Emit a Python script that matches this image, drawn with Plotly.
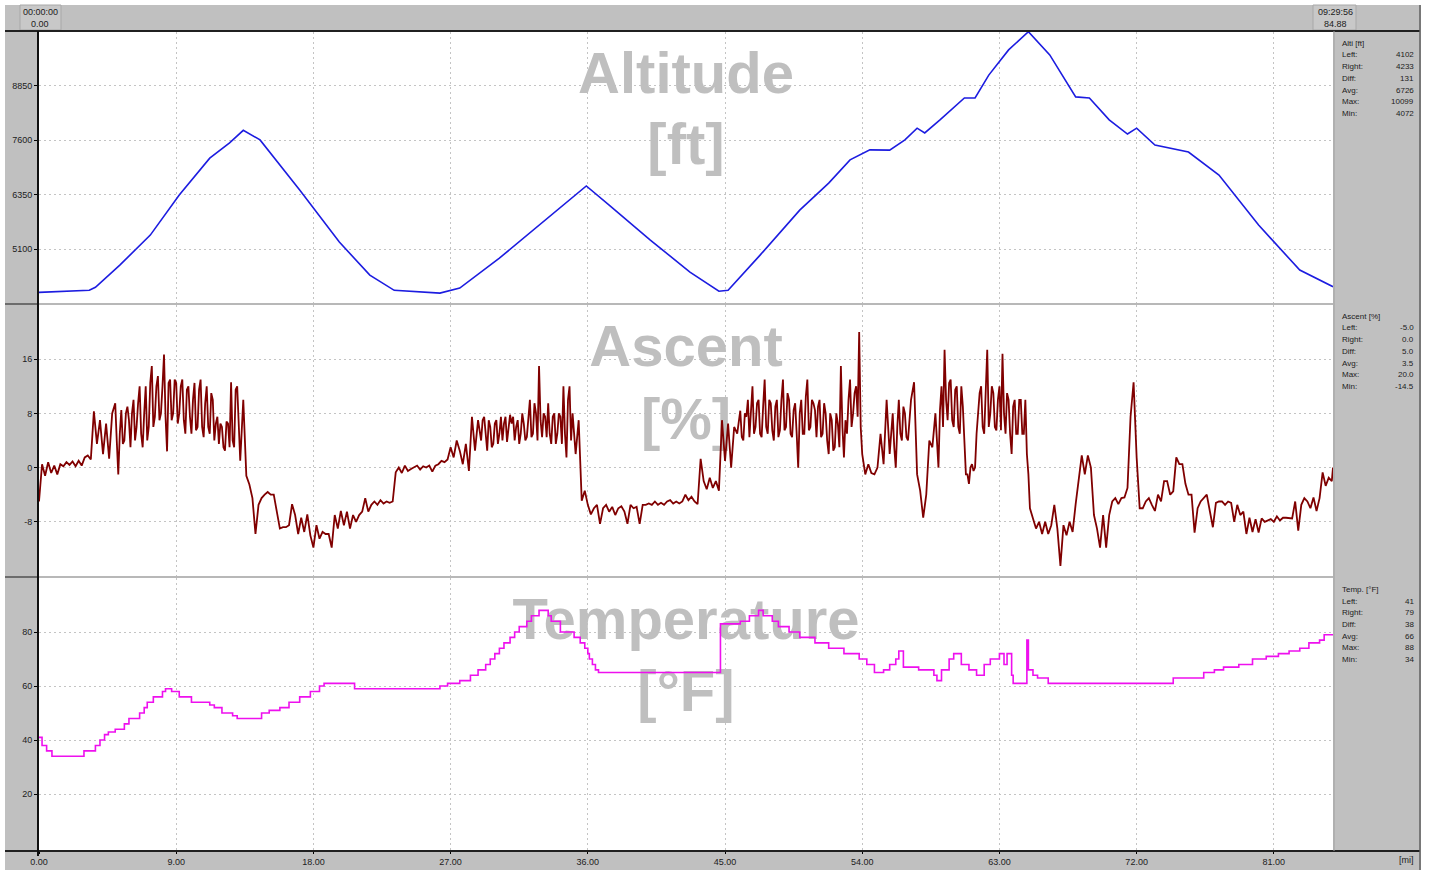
import numpy as np
import plotly.graph_objects as go

W, H = 1430, 875

# ---------------- data ----------------
alt_mi = [0.0, 3.3, 3.7, 5.3, 7.3, 9.2, 11.2, 12.5, 13.4, 14.5, 17.1, 19.7, 21.7, 23.3, 26.3,
          27.6, 30.2, 32.8, 34.8, 35.9, 37.4, 40.1, 42.7, 44.6, 45.2, 47.3, 49.9, 51.8, 53.2,
          54.5, 55.8, 56.8, 57.6, 58.1, 59.1, 60.7, 61.4, 62.3, 63.6, 64.9, 66.3, 68.0, 68.9,
          70.2, 71.4, 72.0, 73.2, 74.8, 75.4, 77.4, 80.0, 82.7, 84.88]
alt_ft = [4102, 4150, 4220, 4730, 5420, 6340, 7190, 7540, 7830, 7610, 6455, 5260, 4500, 4150, 4085,
          4200, 4890, 5650, 6225, 6550, 6110, 5305, 4570, 4130, 4150, 4960, 5995, 6615, 7150,
          7380, 7375, 7610, 7880, 7770, 8070, 8575, 8575, 9100, 9680, 10099, 9565, 8600, 8575,
          8070, 7745, 7880, 7490, 7375, 7330, 6800, 5650, 4615, 4233]

# ascent [%], one row per mile, samples every 0.2 mi, last value at 84.88 mi
asc_pct = [
    -5.0, 0.5, -1.2, 0.8, -0.8,      # 0
    0.3, -1.0, 0.5, 0.2, 0.8,        # 1
    0.4, 0.9, 0.2, 1.0, 0.3,         # 2
    1.5, 1.8, 1.2, 8.3, 3.5,         # 3
    7.0, 2.0, 6.5, 1.3, 8.0,         # 4
    9.5, -1.0, 8.5, 4.0, 9.0,        # 5
    3.0, 10.0, 6.0, 12.0, 3.0,       # 6
    12.0, 6.0, 15.0, 7.5, 13.5,      # 7
    8.0, 16.7, 2.4, 13.0, 8.0,       # 8
    12.5, 8.0, 13.0, 5.0, 12.0,      # 9
    5.0, 12.5, 6.0, 13.0, 4.5,       # 10
    12.0, 5.0, 10.0, 6.5, 3.5,       # 11
    6.0, 2.5, 6.5, 12.6, 3.0,        # 12
    12.0, 1.0, 10.0, -1.2, -2.5,     # 13
    -4.5, -9.8, -5.5, -4.5, -4.0,    # 14
    -3.6, -4.0, -4.0, -6.5, -9.0,    # 15
    -8.8, -8.8, -8.5, -5.4, -7.0,    # 16
    -9.8, -7.4, -9.5, -6.9, -10.0,   # 17
    -11.8, -8.5, -10.5, -9.5, -9.8,  # 18
    -9.8, -11.8, -7.0, -9.0, -6.4,   # 19
    -8.5, -6.5, -9.0, -7.0, -8.0,    # 20
    -7.0, -6.5, -4.5, -6.5, -5.5,    # 21
    -5.0, -5.5, -4.8, -5.3, -5.0,    # 22
    -5.2, -5.0, -0.7, 0.0, -0.8,     # 23
    0.3, -0.5, -0.2, 0.0, 0.3,       # 24
    -0.3, 0.2, 0.0, 0.3, -0.6,       # 25
    0.3, 0.5, 1.0, 0.8, 1.2,         # 26
    3.0, 1.5, 4.0, 2.5, 0.5,         # 27
    3.5, -0.5, 7.5, 2.5, 7.0,        # 28
    4.0, 7.5, 2.5, 6.0, 3.5,         # 29
    7.0, 5.0, 4.0, 7.5, 5.5,         # 30
    6.5, 4.0, 7.0, 5.0, 6.5,         # 31
    4.5, 10.0, 5.0, 8.0, 15.0,       # 32
    4.5, 7.5, 9.5, 3.5, 8.0,         # 33
    5.0, 7.5, 12.0, 1.5, 12.0,       # 34
    8.0, 2.0, 7.0, -4.9, -3.4,       # 35
    -5.5, -6.9, -6.0, -5.5, -8.3,    # 36
    -6.0, -5.5, -6.5, -5.8, -7.0,    # 37
    -6.0, -5.7, -6.5, -8.3, -5.5,    # 38
    -6.0, -5.8, -8.3, -5.5, -5.5,    # 39
    -5.3, -5.5, -5.0, -5.5, -5.2,    # 40
    -5.5, -5.0, -4.8, -5.3, -5.0,    # 41
    -5.3, -5.0, -4.0, -4.8, -4.3,    # 42
    -5.0, -5.4, 1.3, -2.0, -3.2,     # 43
    -1.5, -3.0, -2.0, -3.4, 7.0,     # 44
    1.0, 6.5, 0.0, 6.0, 5.0,         # 45
    8.4, 4.0, 7.5, 4.5, 12.0,        # 46
    6.0, 10.0, 4.5, 13.0, 5.0,       # 47
    9.5, 4.0, 10.0, 5.5, 13.0,       # 48
    6.0, 10.0, 4.5, 9.5, 0.0,        # 49
    10.0, 5.0, 13.0, 6.0, 9.5,       # 50
    4.5, 10.0, 5.0, 8.0, 2.0,        # 51
    7.0, 3.0, 6.5, 15.0, 1.5,        # 52
    5.0, 13.0, 8.0, 12.0, 20.0,      # 53
    2.0, -1.0, 0.5, -0.8, -1.0,      # 54
    0.0, 5.0, 0.5, 10.0, 2.0,        # 55
    8.0, 0.0, 10.0, 4.0, 8.0,        # 56
    4.0, 10.0, 12.6, -1.0, -3.4,     # 57
    -7.4, -4.0, 4.0, 3.0, 8.0,       # 58
    0.0, 12.0, 17.4, 7.0, 13.0,      # 59
    6.0, 12.0, 5.0, 9.0, -1.0,       # 60
    -2.4, 0.5, 0.0, 8.0, 12.0,       # 61
    5.0, 17.4, 8.0, 11.0, 5.5,       # 62
    12.0, 16.8, 5.0, 10.0, 2.0,      # 63
    10.0, 5.0, 10.0, 5.0, 2.0,       # 64
    -6.0, -7.5, -9.0, -8.0, -9.8,    # 65
    -8.0, -9.8, -8.5, -5.5, -9.0,    # 66
    -14.5, -8.5, -10.0, -8.0, -9.5,  # 67
    -5.4, -2.0, 1.8, -1.0, 1.8,      # 68
    0.0, -7.0, -9.0, -11.8, -7.0,    # 69
    -11.8, -7.0, -5.0, -4.5, -5.4,   # 70
    -4.5, -4.4, -3.0, 7.5, 12.6,     # 71
    1.5, -6.0, -6.0, -5.0, -4.5,     # 72
    -5.5, -6.4, -4.0, -5.0, -2.0,    # 73
    -2.0, -4.0, -3.5, 1.5, 0.5,      # 74
    0.5, -2.4, -4.0, -4.0, -9.6,     # 75
    -6.0, -5.0, -4.5, -4.0, -6.4,    # 76
    -8.8, -5.2, -5.0, -5.0, -5.5,    # 77
    -5.0, -5.2, -8.0, -5.5, -7.0,    # 78
    -6.5, -9.8, -7.4, -9.5, -7.6,    # 79
    -9.6, -7.5, -8.0, -7.8, -7.6,    # 80
    -8.0, -7.2, -7.8, -7.4, -7.4,    # 81
    -7.4, -7.5, -5.0, -9.3, -5.5,    # 82
    -4.5, -5.0, -6.0, -4.4, -6.4,    # 83
    -4.5, -0.7, -2.7, -1.5, -2.0,    # 84
    0.0,                             # 84.88
]
asc_mi = [round(i * 0.2, 2) for i in range(len(asc_pct) - 1)] + [84.88]

# extra in-between readings (at mile + 0.1, 0.3, 0.5, 0.7, 0.9) for the noisy climbing stretches
asc_dense = {
    5: [4.0, 5.0, 3.5, 8.0, 7.0],
    6: [8.0, 4.0, 9.5, 5.0, 8.0],
    7: [4.0, 12.5, 6.0, 12.0, 7.0],
    8: [12.0, 7.5, 12.5, 7.0, 13.0],
    9: [6.5, 12.0, 7.0, 11.5, 7.5],
    10: [10.0, 5.5, 11.5, 6.0, 9.5],
    11: [6.0, 11.0, 4.0, 7.5, 6.5],
    12: [3.0, 6.8, 3.0, 4.0, 11.5],
    29: [7.0, 4.5, 7.0, 3.0, 6.5],
    30: [3.5, 7.5, 6.5, 3.8, 7.8],
    31: [7.5, 6.0, 3.5, 8.0, 4.0],
    32: [7.5, 4.5, 9.5, 4.0, 7.0],
    33: [8.0, 4.5, 5.0, 7.5, 3.5],
    34: [8.0, 3.5, 5.0, 10.0, 4.0],
    46: [4.5, 8.0, 10.0, 9.0, 5.0],
    47: [9.5, 5.0, 9.0, 6.0, 10.0],
    48: [5.5, 9.0, 4.5, 10.0, 5.5],
    49: [11.0, 5.0, 8.5, 5.0, 8.0],
    50: [5.0, 10.5, 5.5, 10.0, 8.5],
    51: [9.0, 4.5, 9.5, 4.0, 8.0],
    52: [2.5, 8.0, 3.0, 6.0, 7.0],
    53: [10.0, 6.0, 11.0, 7.5, 6.0],
    56: [3.0, 6.0, 5.0, 9.0, 4.5],
    59: [8.5, 6.0, 10.0, 12.5, 7.0],
    60: [11.5, 6.0, 12.0, 4.0, -1.0],
    61: [0.0, -0.5, 5.0, 11.0, 6.0],
    62: [10.5, 6.0, 12.0, 6.0, 10.0],
    63: [5.5, 8.0, 11.0, 5.0, 9.0],
    64: [5.0, 10.0, 5.0, 10.0, -1.0],
}
pts = list(zip(asc_mi, asc_pct))
for mile, vals in asc_dense.items():
    for k, v in enumerate(vals):
        pts.append((round(mile + 0.1 + 0.2 * k, 2), v))
pts.sort(key=lambda p: p[0])
asc_x = [p[0] for p in pts]
asc_y = [p[1] for p in pts]

# temperature [°F] step changes (value holds until next point)
temp_mi = [0.0, 0.2, 0.5, 0.85, 2.95, 3.7, 4.0, 4.3, 4.55, 5.0, 5.6, 5.9, 6.6, 6.9, 7.1, 7.5,
           8.1, 8.3, 8.7, 9.2, 10.0, 11.2, 11.5, 12.0, 12.7, 13.0, 13.8, 14.6, 15.1, 15.8,
           16.4, 17.1, 17.8, 18.4, 18.7, 20.7, 25.4, 26.3, 26.8, 27.6, 28.3, 28.8, 29.3, 29.6,
           29.9, 30.2, 30.5, 30.9, 31.2, 31.5, 32.0, 32.3, 32.8, 33.4, 33.6, 34.2, 35.1, 35.5,
           35.8, 36.0, 36.1, 36.3, 36.5, 36.7, 44.6, 44.7, 46.0, 46.6, 47.2, 47.5, 48.1, 48.5,
           49.2, 49.9, 50.9, 51.8, 52.8, 53.8, 54.3, 54.8, 55.4, 55.8, 56.2, 56.4, 56.7, 57.7,
           58.7, 58.9, 59.2, 59.7, 60.0, 60.5, 61.0, 61.5, 62.0, 62.4, 63.0, 63.3, 63.5, 63.8,
           63.9, 64.8, 64.9, 65.2, 65.5, 66.2, 68.5, 74.4, 76.4, 77.1, 77.7, 78.7, 79.6, 80.5,
           81.3, 82.0, 82.7, 83.3, 84.0, 84.3, 84.88]
temp_f = [41, 38, 36, 34, 36, 38, 40, 42, 43, 44, 46, 48, 50, 52, 54, 56,
          58, 59, 58, 56, 54, 53, 52, 50, 49, 48, 48, 50, 51, 52,
          54, 56, 58, 60, 61, 59, 59, 60, 61, 62, 64, 66, 68, 70,
          72, 74, 76, 78, 80, 82, 84, 86, 88, 86, 84, 80, 78, 76,
          74, 72, 70, 68, 66, 65, 65, 83, 84, 86, 88, 86, 84, 82,
          80, 78, 76, 74, 72, 70, 68, 65, 66, 68, 70, 73, 67, 66,
          64, 62, 66, 70, 72, 68, 66, 64, 68, 70, 72, 68, 72, 64,
          61, 77, 66, 64, 63, 61, 61, 63, 65, 66, 67, 68, 70, 71,
          72, 73, 74, 76, 77, 79, 79]

x_ticks = [0, 9, 18, 27, 36, 45, 54, 63, 72, 81]
alt_ticks = [5100, 6350, 7600, 8850]
asc_ticks = [-8, 0, 8, 16]
temp_ticks = [20, 40, 60, 80]

stats = [
    ("Alti [ft]", [("Left:", "4102"), ("Right:", "4233"), ("Diff:", "131"), ("Avg:", "6726"),
                   ("Max:", "10099"), ("Min:", "4072")]),
    ("Ascent [%]", [("Left:", "-5.0"), ("Right:", "0.0"), ("Diff:", "5.0"), ("Avg:", "3.5"),
                    ("Max:", "20.0"), ("Min:", "-14.5")]),
    ("Temp. [°F]", [("Left:", "41"), ("Right:", "79"), ("Diff:", "38"), ("Avg:", "66"),
                    ("Max:", "88"), ("Min:", "34")]),
]

# ---------------- layout geometry (pixels) ----------------
PX_L, PX_R = 39, 1333
panels = [(32, 303), (305, 576), (578, 850)]
ranges = [[3858, 10092], [-16.0, 24.0], [-0.7, 100.0]]


def px(x):
    return x / W


def py(y):
    return 1 - y / H


FONT = "Liberation Sans, Arial, sans-serif"
GRID = "#c4c4c4"
CHROME = "#c0c0c0"

fig = go.Figure()

# watermark titles drawn first (below data lines)
wm = [
    ("Altitude", 9034, "[ft]", 7380),
    ("Ascent", 17.2, "[%]", 6.4),
    ("Temperature", 82.9, "[°F]", 56.3),
]
for i, (t1, y1, t2, y2) in enumerate(wm):
    ax = "" if i == 0 else str(i + 1)
    fig.add_trace(go.Scatter(
        x=[42.44, 42.44], y=[y1, y2], text=[t1, t2], mode="text",
        textposition="middle center",
        textfont=dict(family=FONT, size=58, color="#bfbfbf", weight="bold"),
        xaxis="x" + ax, yaxis="y" + ax, hoverinfo="skip", showlegend=False))

fig.add_trace(go.Scatter(x=alt_mi, y=alt_ft, mode="lines",
                         line=dict(color="#1c1ce0", width=1.6),
                         xaxis="x", yaxis="y", showlegend=False))
fig.add_trace(go.Scatter(x=asc_x, y=asc_y, mode="lines",
                         line=dict(color="#800000", width=1.8),
                         xaxis="x2", yaxis="y2", showlegend=False))
fig.add_trace(go.Scatter(x=temp_mi, y=temp_f, mode="lines",
                         line=dict(color="#ee10ee", width=1.6, shape="hv"),
                         xaxis="x3", yaxis="y3", showlegend=False))

layout = dict(
    template="none",
    width=W, height=H, margin=dict(l=0, r=0, t=0, b=0, pad=0, autoexpand=False),
    paper_bgcolor=CHROME, plot_bgcolor="white",
    font=dict(family=FONT, size=9, color="#202020"),
    showlegend=False, hovermode=False,
)
tickvals_y = [alt_ticks, asc_ticks, temp_ticks]
for i, (top, bot) in enumerate(panels):
    sfx = "" if i == 0 else str(i + 1)
    layout["xaxis" + sfx] = dict(
        domain=[px(PX_L), px(PX_R)], range=[0, 84.88], anchor="y" + sfx,
        tickvals=x_ticks, ticktext=["%.2f" % v for v in x_ticks],
        showticklabels=(i == 2), ticks="outside" if i == 2 else "", ticklen=3,
        tickcolor="#000", tickfont=dict(size=9, color="#202020"),
        showgrid=True, gridcolor=GRID, griddash="2px,3px", gridwidth=1,
        zeroline=False, showline=False, fixedrange=True, automargin=False,
    )
    layout["yaxis" + sfx] = dict(
        domain=[py(bot), py(top)], range=ranges[i], anchor="x" + sfx,
        tickvals=tickvals_y[i], ticktext=[str(v) for v in tickvals_y[i]],
        ticks="outside", ticklen=4, tickcolor="#000",
        tickfont=dict(size=9, color="#202020"),
        showgrid=True, gridcolor=GRID, griddash="2px,3px", gridwidth=1,
        zeroline=False, showline=False, fixedrange=True, automargin=False,
    )

shapes = []
annots = []


def rect(x0, y0, x1, y1, fill, line=None, lw=0, layer="above"):
    shapes.append(dict(type="rect", xref="paper", yref="paper",
                       x0=px(x0), x1=px(x1), y0=py(y1), y1=py(y0),
                       fillcolor=fill, line=dict(width=lw, color=line or fill),
                       layer=layer))


def hline(x0, x1, y, color, w=1):
    shapes.append(dict(type="line", xref="paper", yref="paper",
                       x0=px(x0), x1=px(x1), y0=py(y), y1=py(y),
                       line=dict(color=color, width=w)))


def vline(x, y0, y1, color, w=1):
    shapes.append(dict(type="line", xref="paper", yref="paper",
                       x0=px(x), x1=px(x), y0=py(y0), y1=py(y1),
                       line=dict(color=color, width=w)))


# outer white border
rect(0, 0, W, 5, "white")
rect(0, 870, W, H, "white")
rect(0, 0, 5, H, "white")
rect(1421, 0, W, H, "white")

# panel separators inside plot
for yy in (304, 577):
    hline(PX_L, PX_R, yy, "#b8b8b8", 2)
    hline(5, 37, yy, "#505050", 1.5)

# top bar boxes
rect(20, 5, 61, 30, "#c8c8c8", "#a8a8a8", 1)
rect(1313, 5, 1356, 30, "#c8c8c8", "#a8a8a8", 1)
hline(5, 1420, 31, "#202020", 2)
hline(5, 1420, 851, "#202020", 2)
vline(38, 31, 856, "#101010", 2)
vline(1420, 5, 870, "#606060", 1.5)
vline(1334, 31, 851, "#a0a0a0", 1)

# top bar labels
annots += [
    dict(x=px(40), y=py(12), text="00:00:00"),
    dict(x=px(40), y=py(23.5), text="0.00"),
    dict(x=px(1335), y=py(12), text="09:29:56"),
    dict(x=px(1335), y=py(23.5), text="84.88"),
    dict(x=px(1406), y=py(860), text="[mi]"),
]

# stats panels
for i, (title, rows) in enumerate(stats):
    top = panels[i][0]
    annots.append(dict(x=px(1340), y=py(top + 11), text=title, xanchor="left",
                       font=dict(size=8, color="#202020")))
    for k, (lab, val) in enumerate(rows):
        yy = top + 23 + 11.67 * k
        annots.append(dict(x=px(1340), y=py(yy), text=lab, xanchor="left",
                           font=dict(size=8, color="#202020")))
        annots.append(dict(x=px(1416), y=py(yy), text=val, xanchor="right",
                           font=dict(size=8, color="#202020")))

for a in annots:
    a.setdefault("xref", "paper")
    a.setdefault("yref", "paper")
    a.setdefault("showarrow", False)
    a.setdefault("xanchor", "center")
    a.setdefault("yanchor", "middle")
    a.setdefault("font", dict(size=9, color="#202020"))

layout["shapes"] = shapes
layout["annotations"] = annots
fig.update_layout(**layout)

fig.write_html("out.html", config={"displayModeBar": False, "staticPlot": True},
               post_script="document.body.style.margin='0px';"
                           "document.body.style.overflow='hidden';")
